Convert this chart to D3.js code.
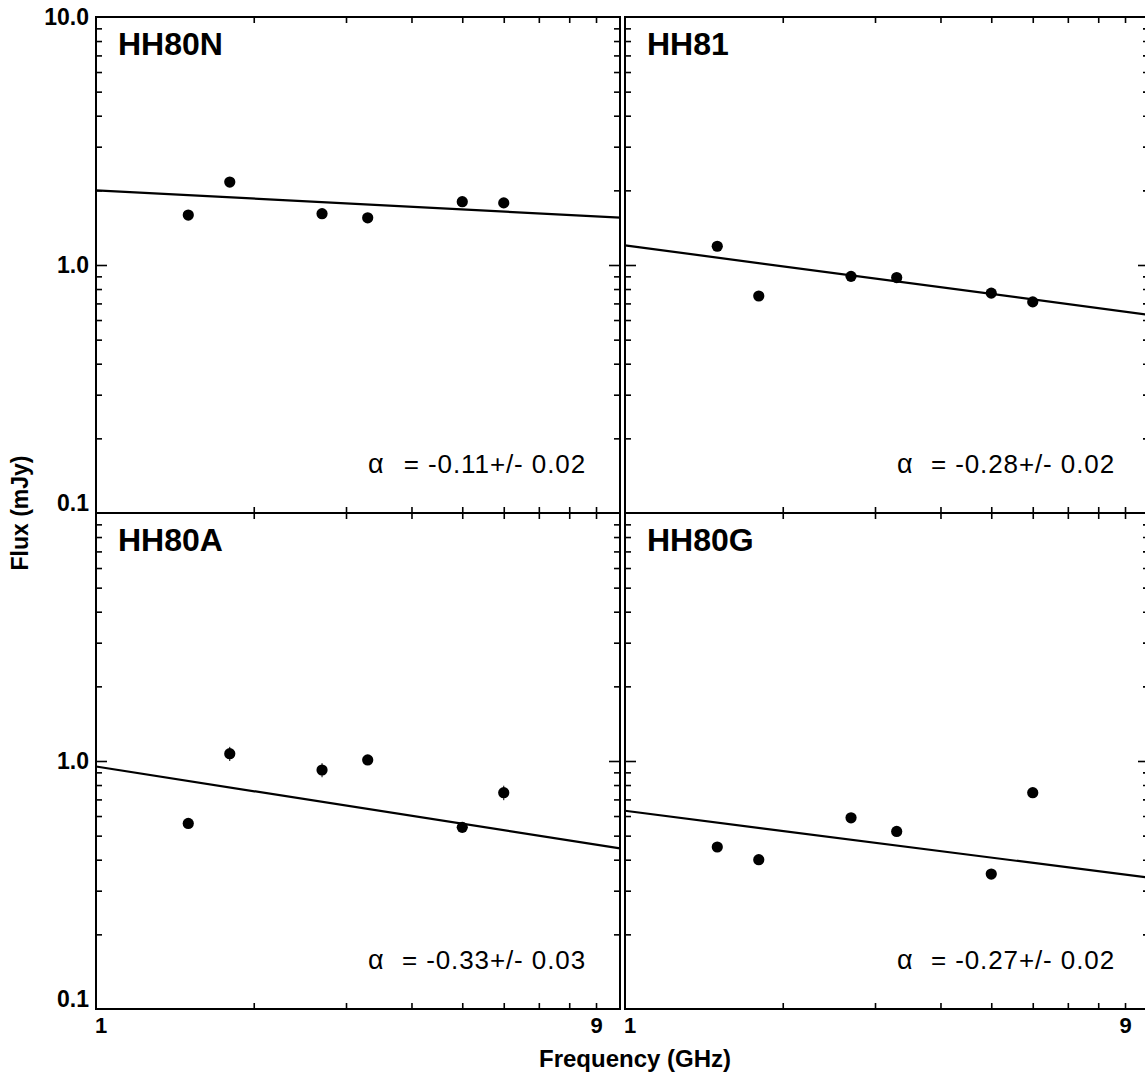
<!DOCTYPE html>
<html><head><meta charset="utf-8">
<script src="https://cdn.jsdelivr.net/npm/d3@7"></script>
<style>
body{margin:0;background:#fff;}
svg{display:block;font-family:"Liberation Sans",Arial,Helvetica,sans-serif;}
</style></head><body>
<svg id="chart" width="1145" height="1078"></svg>
<script>
// ---------- data ----------
const panelNames = ["HH80N", "HH81", "HH80A", "HH80G"];
const frequencies = [1.5, 1.8, 2.7, 3.3, 5.0, 6.0];          // GHz
const fluxHH80N = [1.59, 2.16, 1.61, 1.55, 1.80, 1.78];       // mJy
const fluxHH81  = [1.19, 0.75, 0.90, 0.89, 0.77, 0.71];
const fluxHH80A = [0.56, 1.07, 0.92, 1.01, 0.54, 0.745];
const fluxHH80G = [0.45, 0.40, 0.59, 0.52, 0.35, 0.745];
const errHH80N = [0.04, 0.05, 0.04, 0.04, 0.04, 0.04];
const errHH81  = [0.02, 0.015, 0.02, 0.02, 0.015, 0.015];
const errHH80A = [0.02, 0.07, 0.06, 0.03, 0.02, 0.05];
const errHH80G = [0.012, 0.012, 0.02, 0.015, 0.01, 0.03];
const fitAmplitude = [2.0, 1.2, 0.95, 0.63];                  // flux at 1 GHz
const fitAlpha = [-0.11, -0.28, -0.33, -0.27];
const alphaLabels = ["-0.11", "-0.28", "-0.33", "-0.27"];
const alphaErrLabels = ["0.02", "0.02", "0.03", "0.02"];
const xDomain = [1, 10];
const yDomain = [0.1, 10];
const xMinorTicks = [2, 3, 4, 5, 6, 7, 8, 9];
const yMinorTicks = [0.2, 0.3, 0.4, 0.5, 0.6, 0.7, 0.8, 0.9, 2, 3, 4, 5, 6, 7, 8, 9];
const yMajorTicks = [1];
const xTickValues = [1, 9];
const xTickLabels = ["1", "9"];
const yTickValues = [10, 1, 0.1];
const yTickLabels = ["10.0", "1.0", "0.1"];

const fluxes = [fluxHH80N, fluxHH81, fluxHH80A, fluxHH80G];
const errors = [errHH80N, errHH81, errHH80A, errHH80G];

// ---------- layout ----------
const svg = d3.select("#chart");
const panelW = 524, panelH = 496;
const colX = [96, 625], rowY = [17, 513];
const font = '"Liberation Sans",Arial,Helvetica,sans-serif';

panelNames.forEach((name, i) => {
  const col = i % 2, row = Math.floor(i / 2);
  const x0 = colX[col], y0 = rowY[row];
  const x = d3.scaleLog().domain(xDomain).range([x0, x0 + panelW]);
  const y = d3.scaleLog().domain(yDomain).range([y0 + panelH, y0]);
  const g = svg.append("g");

  const style = sel => {
    sel.select(".domain").remove();
    sel.selectAll(".tick line").attr("stroke", "#000").attr("stroke-width", 1.6);
  };
  // minor & major ticks, pointing inward on all sides
  g.append("g").attr("transform", `translate(0,${y0 + panelH})`)
    .call(d3.axisBottom(x).tickValues(xMinorTicks).tickSize(-6).tickFormat("")).call(style);
  g.append("g").attr("transform", `translate(0,${y0})`)
    .call(d3.axisTop(x).tickValues(xMinorTicks).tickSize(-6).tickFormat("")).call(style);
  g.append("g").attr("transform", `translate(${x0},0)`)
    .call(d3.axisLeft(y).tickValues(yMinorTicks).tickSize(-6).tickFormat("")).call(style);
  g.append("g").attr("transform", `translate(${x0},0)`)
    .call(d3.axisLeft(y).tickValues(yMajorTicks).tickSize(-11).tickFormat("")).call(style);
  g.append("g").attr("transform", `translate(${x0 + panelW},0)`)
    .call(d3.axisRight(y).tickValues(yMinorTicks).tickSize(-6).tickFormat("")).call(style);
  g.append("g").attr("transform", `translate(${x0 + panelW},0)`)
    .call(d3.axisRight(y).tickValues(yMajorTicks).tickSize(-11).tickFormat("")).call(style);

  // y tick labels on left column
  if (col === 0) {
    const vals = row === 0 ? yTickValues : yTickValues.slice(1);
    const ya = g.append("g").attr("transform", `translate(${x0},0)`)
      .call(d3.axisLeft(y).tickValues(vals).tickSize(0).tickPadding(7)
        .tickFormat(d => yTickLabels[yTickValues.indexOf(d)]));
    ya.select(".domain").remove();
    ya.selectAll("text").attr("font-family", font).attr("font-size", 23)
      .attr("font-weight", "bold").attr("fill", "#000")
      .attr("y", d => d === 0.1 ? -10 : 0);
  }
  // x tick labels on bottom row
  if (row === 1) {
    const xa = g.append("g").attr("transform", `translate(0,${y0 + panelH})`)
      .call(d3.axisBottom(x).tickValues(xTickValues).tickSize(0).tickPadding(8)
        .tickFormat(d => xTickLabels[xTickValues.indexOf(d)]));
    xa.select(".domain").remove();
    xa.selectAll("text").attr("font-family", font).attr("font-size", 22)
      .attr("font-weight", "bold").attr("fill", "#000")
      .attr("x", d => d === 1 ? 4.5 : 0);
  }

  // frame
  g.append("rect").attr("x", x0).attr("y", y0).attr("width", panelW).attr("height", panelH)
    .attr("fill", "none").attr("stroke", "#000").attr("stroke-width", 2);

  // fit line
  const fitPts = xDomain.map(f => [f, fitAmplitude[i] * Math.pow(f, fitAlpha[i])]);
  g.append("path").datum(fitPts)
    .attr("d", d3.line().x(d => x(d[0])).y(d => y(d[1])))
    .attr("fill", "none").attr("stroke", "#000").attr("stroke-width", 2.2);

  // error bars + points
  const pts = frequencies.map((f, k) => ({f, s: fluxes[i][k], e: errors[i][k]}));
  g.selectAll("line.err").data(pts).join("line").attr("class", "err")
    .attr("x1", d => x(d.f)).attr("x2", d => x(d.f))
    .attr("y1", d => y(d.s - d.e)).attr("y2", d => y(d.s + d.e))
    .attr("stroke", "#000").attr("stroke-width", 1);
  g.selectAll("circle").data(pts).join("circle")
    .attr("cx", d => x(d.f)).attr("cy", d => y(d.s)).attr("r", 5.6).attr("fill", "#000");

  // panel name
  g.append("text").attr("x", x0 + 22).attr("y", y0 + 38)
    .attr("font-family", font).attr("font-size", 32).attr("font-weight", "bold")
    .text(name);

  // spectral index
  g.append("text").attr("x", x0 + 272).attr("y", y0 + panelH - 40)
    .attr("font-family", font).attr("font-size", 27).text("α");
  g.append("text").attr("x", x0 + 490).attr("y", y0 + panelH - 40)
    .attr("text-anchor", "end").attr("font-family", font).attr("font-size", 26)
    .attr("letter-spacing", 0.9).attr("xml:space", "preserve")
    .text(`= ${alphaLabels[i]}+/- ${alphaErrLabels[i]}`);
});

// axis titles
svg.append("text").attr("transform", "translate(28,513) rotate(-90)")
  .attr("text-anchor", "middle").attr("font-family", font).attr("font-size", 23)
  .attr("font-weight", "bold").text("Flux (mJy)");
svg.append("text").attr("x", 635).attr("y", 1067)
  .attr("text-anchor", "middle").attr("font-family", font).attr("font-size", 24)
  .attr("font-weight", "bold").text("Frequency (GHz)");
</script>
</body></html>
